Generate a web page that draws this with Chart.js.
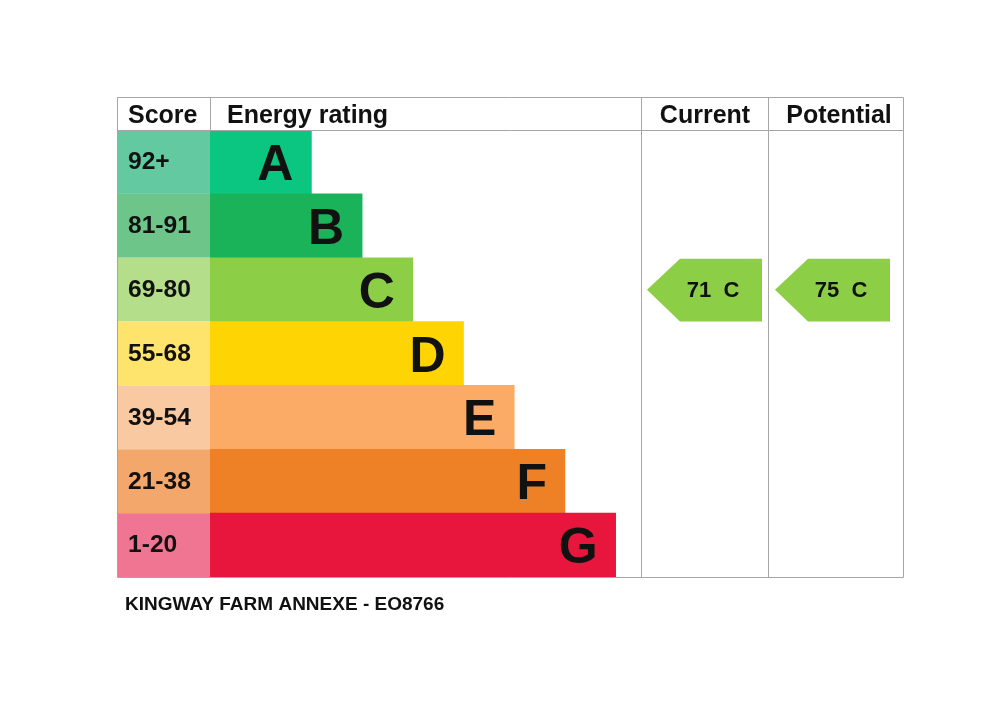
<!DOCTYPE html>
<html>
<head>
<meta charset="utf-8">
<script src="https://cdn.jsdelivr.net/npm/chart.js@4"></script>
<style>
  html, body { margin: 0; padding: 0; background: #fff; }
  canvas { display: block; }
</style>
</head>
<body>
<canvas id="epc" width="1000" height="707"></canvas>
<script>
// bands, top to bottom
const bands = ['A', 'B', 'C', 'D', 'E', 'F', 'G'];
const scoreLabels = ['92+', '81-91', '69-80', '55-68', '39-54', '21-38', '1-20'];
const bandMin = [92, 81, 69, 55, 39, 21, 1];
// bar lengths (relative units)
const barLengths = [2, 3, 4, 5, 6, 7, 8];
const barColors = ['#0bc680', '#1bb35a', '#8ccf47', '#fed503', '#fcab67', '#ee8126', '#e8163d'];
const scoreColors = ['#62c9a1', '#6ec58a', '#b5de8b', '#fee46d', '#f9c9a2', '#f4a76b', '#f07592'];
const currentScore = 71;
const potentialScore = 75;
const footerText = 'KINGWAY FARM ANNEXE - EO8766';

const FONT = '"Liberation Sans", Arial, sans-serif';
const LINE = '#a6a6a6';

function bandOf(score) {
  for (let i = 0; i < bandMin.length; i++) {
    if (score >= bandMin[i]) return i;
  }
  return bandMin.length - 1;
}

// text drawn a bit wider, like the source image
function wideText(ctx, txt, x, y, sx) {
  ctx.save();
  ctx.translate(x, y);
  ctx.scale(sx, 1);
  ctx.fillText(txt, 0, 0);
  ctx.restore();
}

const epcTable = {
  id: 'epcTable',
  beforeDraw(chart) {
    const { ctx, chartArea, scales } = chart;
    ctx.save();
    ctx.fillStyle = '#fff';
    ctx.fillRect(0, 0, chart.width, chart.height);
    const rowH = (chartArea.bottom - chartArea.top) / bands.length;
    bands.forEach((b, i) => {
      const yc = scales.y.getPixelForValue(i);
      ctx.fillStyle = scoreColors[i];
      ctx.fillRect(117, yc - rowH / 2, chartArea.left - 117, rowH);
      ctx.fillStyle = '#111';
      ctx.font = 'bold 23px ' + FONT;
      ctx.textBaseline = 'middle';
      ctx.textAlign = 'left';
      wideText(ctx, scoreLabels[i], 128, yc + 1, 1.07);
    });
    ctx.restore();
  },
  afterDatasetsDraw(chart) {
    const { ctx, chartArea, scales } = chart;
    const meta = chart.getDatasetMeta(0);
    const rowH = (chartArea.bottom - chartArea.top) / bands.length;
    ctx.save();

    // letters inside bars
    ctx.fillStyle = '#111';
    ctx.font = 'bold 50px ' + FONT;
    ctx.textAlign = 'right';
    ctx.textBaseline = 'alphabetic';
    meta.data.forEach((bar, i) => {
      ctx.fillText(bands[i], bar.x - 18, bar.y + 18);
    });

    // grid lines
    ctx.strokeStyle = LINE;
    ctx.lineWidth = 1;
    const top = 97.5, head = 130.5, bottom = 577.5;
    ctx.beginPath();
    ctx.rect(117.5, top, 903 - 117, bottom - top);
    ctx.moveTo(117.5, head); ctx.lineTo(903, head);
    ctx.moveTo(210.5, top); ctx.lineTo(210.5, head);
    ctx.moveTo(641.5, top); ctx.lineTo(641.5, bottom);
    ctx.moveTo(768.5, top); ctx.lineTo(768.5, bottom);
    ctx.stroke();

    // headers
    ctx.fillStyle = '#111';
    ctx.font = 'bold 25px ' + FONT;
    ctx.textBaseline = 'alphabetic';
    ctx.textAlign = 'left';
    ctx.fillText('Score', 128, 123);
    ctx.fillText('Energy rating', 227, 123);
    ctx.textAlign = 'center';
    ctx.fillText('Current', 705, 123);
    ctx.fillText('Potential', 839, 123);

    // current / potential arrows
    const arrow = (score, tipX, rightX, textX) => {
      const i = bandOf(score);
      const yc = scales.y.getPixelForValue(i);
      const t = yc - rowH / 2 + 1, b = yc + rowH / 2;
      const bodyX = tipX + 33;
      ctx.fillStyle = barColors[i];
      ctx.beginPath();
      ctx.moveTo(tipX, yc);
      ctx.lineTo(bodyX, t);
      ctx.lineTo(rightX, t);
      ctx.lineTo(rightX, b);
      ctx.lineTo(bodyX, b);
      ctx.closePath();
      ctx.fill();
      ctx.fillStyle = '#111';
      ctx.font = 'bold 22px ' + FONT;
      ctx.textAlign = 'center';
      ctx.textBaseline = 'middle';
      ctx.fillText(score + '  ' + bands[i], textX, yc + 1);
    };
    arrow(currentScore, 647, 762, 713);
    arrow(potentialScore, 775, 890, 841);

    // footer
    ctx.fillStyle = '#111';
    ctx.font = 'bold 19px ' + FONT;
    ctx.textAlign = 'left';
    ctx.textBaseline = 'alphabetic';
    ctx.fillText(footerText, 125, 610);
    ctx.restore();
  }
};

new Chart(document.getElementById('epc'), {
  type: 'bar',
  data: {
    labels: bands,
    datasets: [{
      data: barLengths,
      backgroundColor: barColors,
      borderWidth: 0,
      barPercentage: 1,
      categoryPercentage: 1
    }]
  },
  options: {
    indexAxis: 'y',
    responsive: false,
    animation: false,
    layout: { padding: { left: 210, right: 359, top: 130, bottom: 130 } },
    scales: {
      x: { display: false, min: 0, max: 8.5 },
      y: { display: false }
    },
    plugins: {
      legend: { display: false },
      tooltip: { enabled: false }
    }
  },
  plugins: [epcTable]
});
</script>
</body>
</html>
